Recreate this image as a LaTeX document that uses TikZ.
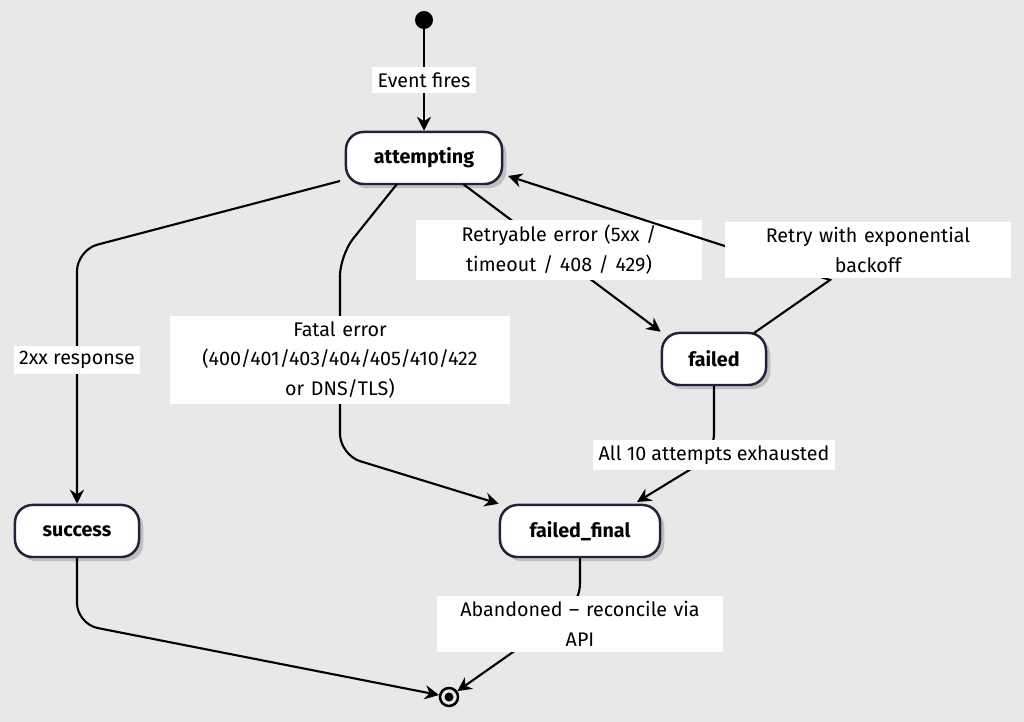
\documentclass[tikz,border=0pt]{standalone}
\usepackage{fontspec}
\setmainfont{Fira Sans}
\usetikzlibrary{positioning,arrows.meta,shadows}
\definecolor{bgcol}{HTML}{E8E8E8}
\definecolor{edgecol}{HTML}{24223A}
\tikzset{
  state/.style={draw=edgecol, line width=0.7pt, fill=white, rounded corners=5pt,
    minimum height=0.52cm, font=\fontsize{5.6}{7}\selectfont\bfseries,
    drop shadow={shadow xshift=1.2pt, shadow yshift=-1.2pt, fill=black!25, opacity=1}},
  lbl/.style={fill=white, align=center, inner sep=1.5pt, font=\fontsize{5.6}{8.5}\selectfont},
  trans/.style={line width=0.6pt, -{Stealth[length=4pt,width=4pt]}, rounded corners=6pt}
}
\begin{document}
\begin{tikzpicture}[x=0.01cm, y=-0.01cm]
  \fill[bgcol] (0,0) rectangle (1024,722);
  \useasboundingbox (0,0) rectangle (1024,722);

  % toestanden
  \fill (424,20) circle (9) coordinate (start);
  \node[state, minimum width=1.56cm] (attempting) at (424,158) {attempting};
  \node[state, minimum width=1.04cm] (failed) at (714,359) {failed};
  \node[state, minimum width=1.24cm] (success) at (77,531) {success};
  \node[state, minimum width=1.60cm] (final) at (580,531) {failed\_final};
  \node[circle, draw, line width=0.7pt, minimum size=0.18cm, inner sep=0pt] (end) at (449,697) {};
  \fill (end) circle (4.5);

  % overgangen
  \draw[trans] (start) -- (attempting);
  \node[lbl] at (424,80) {Event fires};

  \draw[trans] (340,181) -- (77,250) -- (success);
  \node[lbl] at (77,360) {2xx response};

  \draw[trans] (397,184) -- (340,255) -- (340,455) -- (final.north west);
  \node[lbl, text width=3.3cm] at (340,360) {Fatal error\\(400/401/403/404/405/410/422\\or DNS/TLS)};

  \draw[trans] (463,184) -- (failed.north west);
  \node[lbl, text width=2.75cm] at (559,250) {Retryable error (5xx /\\timeout / 408 / 429)};

  \draw[trans, rounded corners=0pt] (754,333) -- (830,280) -- (508,176);
  \node[lbl, text width=2.75cm] at (868,250) {Retry with exponential\\backoff};

  \draw[trans] (failed) -- (714,455) -- (637,502);
  \node[lbl] at (714,455) {All 10 attempts exhausted};

  \draw[trans] (success) -- (77,624) -- (end);
  \draw[trans] (final) -- (580,605) -- (end);
  \node[lbl, text width=2.75cm] at (580,624) {Abandoned -- reconcile via\\API};
\end{tikzpicture}
\end{document}
